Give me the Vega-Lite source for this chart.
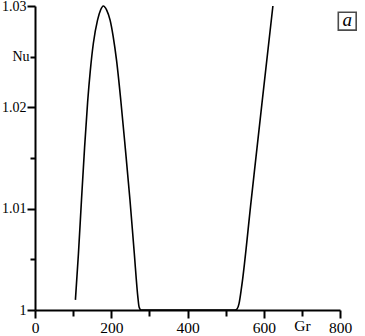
{
  "$schema": "https://vega.github.io/schema/vega-lite/v6.json",
  "width": 305,
  "height": 304,
  "autosize": {"type": "none"},
  "padding": {"left": 35, "top": 6, "right": 25, "bottom": 26},
  "background": "white",
  "config": {
    "view": {"stroke": null},
    "font": "Liberation Serif",
    "axis": {"grid": false, "domainColor": "black", "domainWidth": 2, "tickColor": "black", "tickWidth": 2, "labelColor": "black", "labelFont": "Liberation Serif", "title": null}
  },
  "encoding": {
    "x": {"field": "Gr", "type": "quantitative", "scale": {"domain": [0, 800], "nice": false},
      "axis": {"values": [0, 100, 200, 300, 400, 500, 600, 700, 800], "labelOverlap": false, "labelFlush": false, "labelFontSize": 15.5, "tickSize": {"condition": {"test": "datum.value % 200 == 0", "value": 8}, "value": 6}, "labelPadding": 2,
        "labelExpr": "datum.value == 700 ? 'Gr' : (datum.value % 200 == 0 ? datum.label : '')"}},
    "y": {"field": "Nu", "type": "quantitative", "scale": {"domain": [1, 1.03], "nice": false, "zero": false},
      "axis": {"values": [1, 1.005, 1.01, 1.015, 1.02, 1.025, 1.03], "labelOverlap": false, "labelFlush": false, "labelFontSize": 14, "tickSize": {"condition": {"test": "round(datum.value*1000) % 10 == 0", "value": 8}, "value": 5}, "labelPadding": 1,
        "labelExpr": "round(datum.value*1000) == 1000 ? '1' : (round(datum.value*1000) == 1025 ? 'Nu' : (round(datum.value*1000) % 10 == 0 ? format(datum.value, '.2f') : ''))"}}
  },
  "layer": [
    {
      "data": {"values": [
        {"Gr": 106, "Nu": 1.0010},
        {"Gr": 114, "Nu": 1.0056},
        {"Gr": 122, "Nu": 1.0109},
        {"Gr": 130, "Nu": 1.0160},
        {"Gr": 138, "Nu": 1.0205},
        {"Gr": 145, "Nu": 1.0236},
        {"Gr": 153, "Nu": 1.0263},
        {"Gr": 164, "Nu": 1.0286},
        {"Gr": 172, "Nu": 1.0296},
        {"Gr": 179, "Nu": 1.0300},
        {"Gr": 188, "Nu": 1.0296},
        {"Gr": 197, "Nu": 1.0286},
        {"Gr": 205, "Nu": 1.0270},
        {"Gr": 214, "Nu": 1.0246},
        {"Gr": 225, "Nu": 1.0207},
        {"Gr": 237, "Nu": 1.0159},
        {"Gr": 249, "Nu": 1.0109},
        {"Gr": 260, "Nu": 1.0058},
        {"Gr": 270, "Nu": 1.0012},
        {"Gr": 273, "Nu": 1.0003},
        {"Gr": 278, "Nu": 1.0000},
        {"Gr": 300, "Nu": 1.0000},
        {"Gr": 400, "Nu": 1.0000},
        {"Gr": 500, "Nu": 1.0000},
        {"Gr": 525, "Nu": 1.0000},
        {"Gr": 530, "Nu": 1.0001},
        {"Gr": 535, "Nu": 1.0006},
        {"Gr": 542, "Nu": 1.0023},
        {"Gr": 567, "Nu": 1.0108},
        {"Gr": 595, "Nu": 1.0203},
        {"Gr": 624, "Nu": 1.0300}
      ]},
      "mark": {"type": "line", "color": "black", "strokeWidth": 1.6, "interpolate": "monotone"}
    },
    {
      "data": {"values": [{"Gr": 819, "Nu": 1.0285, "label": "a"}]},
      "mark": {"type": "point", "shape": "square", "filled": false, "color": "black", "strokeWidth": 1.6, "size": 320}
    },
    {
      "data": {"values": [{"Gr": 819, "Nu": 1.0285, "label": "a"}]},
      "mark": {"type": "text", "font": "Liberation Serif", "fontStyle": "italic", "fontSize": 19, "color": "black", "baseline": "middle", "align": "center", "dy": -1},
      "encoding": {"text": {"field": "label"}}
    }
  ]
}
